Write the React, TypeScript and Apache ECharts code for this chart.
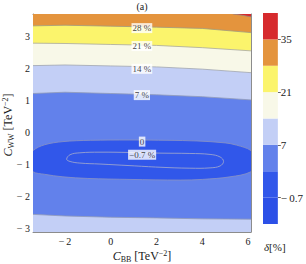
import React, { useEffect, useRef } from 'react';
import * as echarts from 'echarts';

// ---- axis ranges & ticks ----
const X_MIN = -3.4;
const X_MAX = 6.13;
const Y_MIN = -3.1;
const Y_MAX = 3.7;
const xTickValues = [-2, 0, 2, 4, 6];
const yTickValues = [-3, -2, -1, 0, 1, 2, 3];

// ---- contour lines ----
const bandX = [-3.4, -2, 0, 2, 4, 6.13];
const level28Y = [3.33, 3.35, 3.32, 3.29, 3.25, 3.12];
const level21Y = [2.79, 2.78, 2.75, 2.72, 2.65, 2.55];
const level14Y = [2.09, 2.11, 2.08, 2.05, 1.98, 1.87];
const level7TopY = [1.22, 1.26, 1.22, 1.18, 1.12, 1.02];
const level7BottomY = [-2.55, -2.6, -2.64, -2.66, -2.69, -2.7];

const level35X = [5.34, 5.75, 6.13];
const level35Y = [3.7, 3.66, 3.61];

const level0X = [-3.8, -3.4, -2.9, -2.09, -0.9, 0.84, 2.5, 3.76, 5.0, 5.5, 6.13, 6.5, 6.13, 5.21, 4.0, 3.03, 0.84, -1.0, -2.09, -2.9, -3.4];
const level0Y = [-0.9, -0.56, -0.38, -0.28, -0.24, -0.23, -0.24, -0.26, -0.32, -0.39, -0.56, -0.9, -1.22, -1.38, -1.46, -1.48, -1.46, -1.43, -1.38, -1.3, -1.22];

const levelM07X = [-1.93, -1.78, -1.35, -0.47, 0.84, 2.15, 3.46, 4.34, 4.78, 4.93, 4.78, 4.34, 3.46, 2.15, 0.84, -0.47, -1.35, -1.78];
const levelM07Y = [-0.83, -0.69, -0.63, -0.61, -0.62, -0.64, -0.65, -0.68, -0.76, -0.9, -1.04, -1.1, -1.11, -1.08, -1.03, -0.98, -0.95, -0.9];

// ---- contour labels ----
const contourLabelText = ['28 %', '21 %', '14 %', '7 %', '0', '\u22120.7 %'];
const contourLabelX = [1.36, 1.36, 1.36, 1.36, 1.37, 1.37];
const contourLabelY = [3.26, 2.7, 1.99, 1.17, -0.28, -0.69];

// ---- colour legend ----
const colorbarColors = ['#2c50e7', '#3157ea', '#6281eb', '#c3cff6', '#f8f8e8', '#fbf46c', '#e4943d', '#d62a2d'];
const colorbarTickPos = [1, 3, 5, 7];
const colorbarTickText = ['\u2212\u20090.7', '7', '21', '35'];

const SERIF = "'Liberation Serif', 'DejaVu Serif', serif";

const toPts = (xs: number[], ys: number[]) => xs.map((x, i) => [x, ys[i]]);

type Shape = { kind: 'fill' | 'line'; pts: number[][]; color?: string; stroke?: string; smooth?: number };

const shapes: Shape[] = [
  { kind: 'fill', pts: [[X_MIN, Y_MIN], [X_MAX, Y_MIN], [X_MAX, Y_MAX], [X_MIN, Y_MAX]], color: colorbarColors[6] },
  { kind: 'fill', pts: [...toPts(level35X, level35Y), [X_MAX, Y_MAX]], color: colorbarColors[7] },
  { kind: 'fill', pts: [...toPts(bandX, level28Y), [X_MAX, Y_MIN], [X_MIN, Y_MIN]], color: colorbarColors[5] },
  { kind: 'fill', pts: [...toPts(bandX, level21Y), [X_MAX, Y_MIN], [X_MIN, Y_MIN]], color: colorbarColors[4] },
  { kind: 'fill', pts: [...toPts(bandX, level14Y), [X_MAX, Y_MIN], [X_MIN, Y_MIN]], color: colorbarColors[3] },
  { kind: 'fill', pts: [...toPts(bandX, level7TopY), ...toPts(bandX, level7BottomY).reverse()], color: colorbarColors[2] },
  { kind: 'fill', pts: toPts(level0X, level0Y), color: colorbarColors[1], stroke: '#8590c6', smooth: 0.35 },
  { kind: 'fill', pts: toPts(levelM07X, levelM07Y), color: colorbarColors[1], stroke: '#9aa3cf', smooth: 0.4 },
  { kind: 'line', pts: toPts(level35X, level35Y), stroke: '#9a8a80' },
  { kind: 'line', pts: toPts(bandX, level28Y), stroke: '#a09a80' },
  { kind: 'line', pts: toPts(bandX, level21Y), stroke: '#a8a8a0' },
  { kind: 'line', pts: toPts(bandX, level14Y), stroke: '#a0a4b0' },
  { kind: 'line', pts: toPts(bandX, level7TopY), stroke: '#909ab8' },
  { kind: 'line', pts: toPts(bandX, level7BottomY), stroke: '#909ab8' },
];

const fmtX = (v: number) => (v < 0 ? '\u2212\u2009' + Math.abs(v) : String(v));
const fmtY = (v: number) => (v < 0 ? '\u2212 ' + Math.abs(v) : String(v));

const range = (a: number, b: number, step: number) => {
  const out: number[] = [];
  for (let v = a; v <= b + 1e-9; v += step) out.push(Math.round(v * 100) / 100);
  return out;
};
const xMinorTicks = range(-3, 6, 0.5);
const yMinorTicks = range(-3, 3.6, 0.2);

const FRAME = '#8c8c8c';
const TICK = '#5a5a5a';

function frameAxis(position: string, dim: 'x' | 'y', major: boolean, labels: boolean) {
  const isX = dim === 'x';
  return {
    type: 'value',
    gridIndex: 0,
    position,
    min: isX ? X_MIN : Y_MIN,
    max: isX ? X_MAX : Y_MAX,
    axisLine: { show: major, onZero: false, lineStyle: { color: FRAME, width: 1 } },
    axisTick: {
      show: true,
      inside: true,
      length: major ? 4 : 2,
      customValues: major ? (isX ? xTickValues : yTickValues) : isX ? xMinorTicks : yMinorTicks,
      lineStyle: { color: TICK, width: 0.8 },
    },
    axisLabel: labels
      ? {
          show: true,
          customValues: isX ? xTickValues : yTickValues,
          formatter: isX ? fmtX : fmtY,
          margin: isX ? 4 : 3,
          fontSize: 10,
          fontFamily: SERIF,
          color: '#1a1a1a',
        }
      : { show: false },
    splitLine: { show: false },
  };
}

export default function App() {
  const ref = useRef<HTMLDivElement>(null);
  useEffect(() => {
    document.body.style.margin = '0';
    const chart = echarts.init(ref.current!, null, { renderer: 'svg' });
    const option: any = {
      animation: false,
      backgroundColor: '#ffffff',
      grid: [
        { left: 33, top: 14, width: 218, height: 218 },
        { left: 263, top: 13, width: 16, height: 211 },
      ],
      xAxis: [
        frameAxis('bottom', 'x', true, true),
        frameAxis('bottom', 'x', false, false),
        frameAxis('top', 'x', true, false),
        frameAxis('top', 'x', false, false),
        { type: 'value', gridIndex: 1, min: 0, max: 1, show: false },
      ],
      yAxis: [
        frameAxis('left', 'y', true, true),
        frameAxis('left', 'y', false, false),
        frameAxis('right', 'y', true, false),
        frameAxis('right', 'y', false, false),
        {
          type: 'value',
          gridIndex: 1,
          position: 'right',
          min: 0,
          max: 8,
          axisLine: { show: false, onZero: false },
          splitLine: { show: false },
          axisTick: { show: true, inside: false, length: 3, customValues: colorbarTickPos, lineStyle: { color: '#444', width: 0.8 } },
          axisLabel: {
            show: true,
            customValues: colorbarTickPos,
            formatter: (v: number) => colorbarTickText[colorbarTickPos.indexOf(v)] ?? '',
            margin: 3,
            fontSize: 11,
            fontFamily: SERIF,
            color: '#1a1a1a',
          },
        },
      ],
      series: [
        {
          type: 'custom',
          xAxisIndex: 0,
          yAxisIndex: 0,
          clip: true,
          silent: true,
          z: 2,
          data: shapes.map(() => [0, 0]),
          renderItem: (params: any, api: any) => {
            const s = shapes[params.dataIndex];
            const points = s.pts.map((p) => api.coord(p));
            if (s.kind === 'line') {
              return {
                type: 'polyline',
                z2: 100 + params.dataIndex,
                shape: { points },
                style: { fill: 'none', stroke: s.stroke, lineWidth: 0.8 },
              };
            }
            return {
              type: 'polygon',
              z2: params.dataIndex,
              shape: { points, smooth: s.smooth || 0 },
              style: { fill: s.color, stroke: s.stroke || 'none', lineWidth: 0.9 },
            };
          },
        },
        {
          type: 'scatter',
          xAxisIndex: 0,
          yAxisIndex: 0,
          z: 5,
          silent: true,
          symbolSize: 0,
          data: contourLabelX.map((x, i) => [x, contourLabelY[i]]),
          label: {
            show: true,
            position: 'inside',
            formatter: (p: any) => contourLabelText[p.dataIndex],
            backgroundColor: '#ffffff',
            padding: [1, 1, 0, 1],
            fontSize: 9,
            fontFamily: SERIF,
            color: '#111',
          },
        },
        {
          type: 'custom',
          xAxisIndex: 4,
          yAxisIndex: 4,
          silent: true,
          data: colorbarColors.map((_, i) => [0, i]),
          renderItem: (params: any, api: any) => {
            const i = params.dataIndex;
            const p0 = api.coord([0, i]);
            const p1 = api.coord([1, i + 1]);
            return {
              type: 'rect',
              shape: { x: p0[0], y: p1[1], width: p1[0] - p0[0], height: p0[1] - p1[1] },
              style: { fill: colorbarColors[i], stroke: 'none' },
            };
          },
        },
      ],
      graphic: [
        {
          type: 'text',
          x: 142,
          y: 6,
          style: { text: '(a)', fontSize: 10, fontFamily: SERIF, fill: '#1a1a1a', align: 'center', verticalAlign: 'middle' },
        },
        {
          type: 'text',
          x: 142,
          y: 256,
          style: {
            text: '{c|C}{s|BB}{n| [TeV}{p|\u22122}{n|]}',
            align: 'center',
            verticalAlign: 'middle',
            fill: '#1a1a1a',
            rich: {
              c: { fontSize: 12, fontStyle: 'italic', fontFamily: SERIF, lineHeight: 14, fill: '#1a1a1a' },
              s: { fontSize: 8, fontFamily: SERIF, lineHeight: 8, verticalAlign: 'bottom', fill: '#1a1a1a' },
              n: { fontSize: 12, fontFamily: SERIF, lineHeight: 14, fill: '#1a1a1a' },
              p: { fontSize: 8, fontFamily: SERIF, lineHeight: 8, verticalAlign: 'top', fill: '#1a1a1a' },
            },
          },
        },
        {
          type: 'text',
          x: 8,
          y: 125,
          rotation: Math.PI / 2,
          style: {
            text: '{c|C}{s|WW}{n| [TeV}{p|\u22122}{n|]}',
            align: 'center',
            verticalAlign: 'middle',
            fill: '#1a1a1a',
            rich: {
              c: { fontSize: 12, fontStyle: 'italic', fontFamily: SERIF, lineHeight: 14, fill: '#1a1a1a' },
              s: { fontSize: 8, fontFamily: SERIF, lineHeight: 8, verticalAlign: 'bottom', fill: '#1a1a1a' },
              n: { fontSize: 12, fontFamily: SERIF, lineHeight: 14, fill: '#1a1a1a' },
              p: { fontSize: 8, fontFamily: SERIF, lineHeight: 8, verticalAlign: 'top', fill: '#1a1a1a' },
            },
          },
        },
        {
          type: 'text',
          x: 264,
          y: 247,
          style: {
            text: '{d|\u03b4}{n|[%]}',
            align: 'left',
            verticalAlign: 'middle',
            fill: '#1a1a1a',
            rich: {
              d: { fontSize: 11, fontStyle: 'italic', fontFamily: SERIF, fill: '#1a1a1a' },
              n: { fontSize: 11, fontFamily: SERIF, fill: '#1a1a1a' },
            },
          },
        },
      ],
    };
    chart.setOption(option);
    return () => chart.dispose();
  }, []);
  return <div ref={ref} style={{ width: 306, height: 264 }} />;
}
